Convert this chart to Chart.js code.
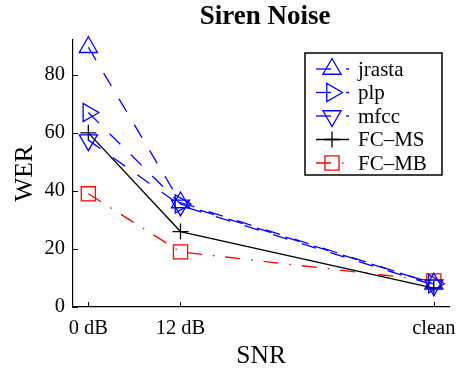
<!DOCTYPE html>
<html>
<head>
<meta charset="utf-8">
<script src="https://cdn.jsdelivr.net/npm/chart.js@4/dist/chart.umd.min.js"></script>
<style>
  html, body { margin: 0; padding: 0; background: #fff; }
  #wrap { width: 461px; height: 373px; }
</style>
</head>
<body>
<div id="wrap"><canvas id="myChart"></canvas></div>
<script>
// categorie asse x e posizione in dB
const categories = ['0 dB', '12 dB', 'clean'];
const snrPos = [0, 12, 45];
const yTicks = [0, 20, 40, 60, 80];

// valori WER per serie
const jrasta = [89.5, 36, 8];
const plp = [67, 35.5, 8];
const mfcc = [57.5, 35, 7.5];
const fcMs = [60, 26, 6.5];
const fcMb = [39, 19, 9];

const FONT = "'Liberation Serif', 'Times New Roman', serif";

function pts(vals) {
	return vals.map((v, i) => ({ x: snrPos[i], y: v }));
}

const dashed = [15, 15];
const dashDot = [15, 11, 1.5, 11];

const series = [
	{ label: 'jrasta', data: pts(jrasta), color: '#0000ff', style: 'triangle', rot: 0, r: 10.5, dash: dashed },
	{ label: 'plp', data: pts(plp), color: '#0000ff', style: 'triangle', rot: 90, r: 10.5, dash: dashed },
	{ label: 'mfcc', data: pts(mfcc), color: '#0000ff', style: 'triangle', rot: 180, r: 10.5, dash: dashed },
	{ label: 'FC\u2013MS', data: pts(fcMs), color: '#000000', style: 'cross', rot: 0, r: 8, dash: [] },
	{ label: 'FC\u2013MB', data: pts(fcMb), color: '#ff0000', style: 'rect', rot: 0, r: 10, dash: dashDot }
];

// titolo, etichette x, tacche interne e legenda disegnati a mano
const extras = {
	id: 'extras',
	afterDraw(chart) {
		const c = chart.ctx;
		const a = chart.chartArea;
		const xs = chart.scales.x, ys = chart.scales.y;
		c.save();
		c.fillStyle = '#000';
		c.font = 'bold 27px ' + FONT;
		c.textAlign = 'center';
		c.textBaseline = 'alphabetic';
		c.fillText('Siren Noise', (a.left + a.right) / 2 + 4, 24);

		// etichette dell'asse x
		c.font = '20.5px ' + FONT;
		snrPos.forEach((v, i) => {
			c.fillText(categories[i], xs.getPixelForValue(v), a.bottom + 27);
		});

		// tacche verso l'interno
		c.strokeStyle = '#000';
		c.lineWidth = 1;
		c.setLineDash([]);
		yTicks.forEach(v => {
			const y = Math.round(ys.getPixelForValue(v)) + 0.5;
			c.beginPath(); c.moveTo(a.left, y); c.lineTo(a.left + 5, y); c.stroke();
		});
		snrPos.forEach(v => {
			const x = Math.round(xs.getPixelForValue(v)) + 0.5;
			c.beginPath(); c.moveTo(x, a.bottom); c.lineTo(x, a.bottom - 5); c.stroke();
		});

		// legenda
		const bx = 305, by = 53, bw = 137, bh = 122;
		c.fillStyle = '#fff';
		c.fillRect(bx, by, bw, bh);
		c.lineWidth = 1.5;
		c.strokeStyle = '#000';
		c.strokeRect(bx, by, bw, bh);
		c.textBaseline = 'middle';
		series.forEach((s, i) => {
			const y = 69 + i * 23.5;
			c.strokeStyle = s.color;
			c.lineWidth = 1.3;
			c.setLineDash(s.dash);
			c.beginPath(); c.moveTo(316, y); c.lineTo(349, y); c.stroke();
			c.setLineDash([]);
			c.fillStyle = 'rgba(0,0,0,0)';
			Chart.helpers.drawPoint(c, { pointStyle: s.style, rotation: s.rot, radius: s.r, borderWidth: 1.3 }, 332, y);
			c.fillStyle = '#000';
			c.font = '21px ' + FONT;
			c.textAlign = 'left';
			c.fillText(s.label, 358, y + 1);
		});
		c.restore();
	}
};

const ctx = document.getElementById('myChart');
new Chart(ctx, {
	type: 'line',
	data: {
		datasets: series.map(s => ({
			label: s.label,
			data: s.data,
			borderColor: s.color,
			backgroundColor: 'rgba(0,0,0,0)',
			borderWidth: 1.3,
			borderDash: s.dash,
			pointStyle: s.style,
			pointRotation: s.rot,
			pointRadius: s.r,
			pointBorderWidth: 1.3,
			pointBorderColor: s.color,
			pointBackgroundColor: 'rgba(0,0,0,0)',
			tension: 0,
			clip: false
		}))
	},
	options: {
		responsive: true,
		maintainAspectRatio: false,
		animation: false,
		layout: { padding: { top: 40, right: 7, left: 0, bottom: 0 } },
		plugins: { legend: { display: false }, title: { display: false }, tooltip: { enabled: false } },
		scales: {
			x: {
				type: 'linear',
				min: -2,
				max: 47,
				afterBuildTicks: (sc) => { sc.ticks = snrPos.map(v => ({ value: v })); },
				afterFit: (sc) => { sc.height = 66; sc.paddingLeft = 0; sc.paddingRight = 0; },
				ticks: { display: false },
				grid: { display: false, drawTicks: false },
				border: { display: true, color: '#000', width: 1.2 },
				title: { display: true, text: 'SNR', color: '#000', font: { family: FONT, size: 25.5 }, padding: { top: 0, bottom: 1 } }
			},
			y: {
				min: 0,
				max: 92,
				afterBuildTicks: (sc) => { sc.ticks = yTicks.map(v => ({ value: v })); },
				afterFit: (sc) => { sc.width = 73; sc.paddingTop = 0; sc.paddingBottom = 0; },
				ticks: {
					padding: 8,
					color: '#000',
					font: { family: FONT, size: 20.5 }
				},
				grid: { display: false, drawTicks: false },
				border: { display: true, color: '#000', width: 1.2 },
				title: { display: true, text: 'WER', color: '#000', font: { family: FONT, size: 25.5 }, padding: { top: 10, bottom: 0 } }
			}
		}
	},
	plugins: [extras]
});
</script>
</body>
</html>
